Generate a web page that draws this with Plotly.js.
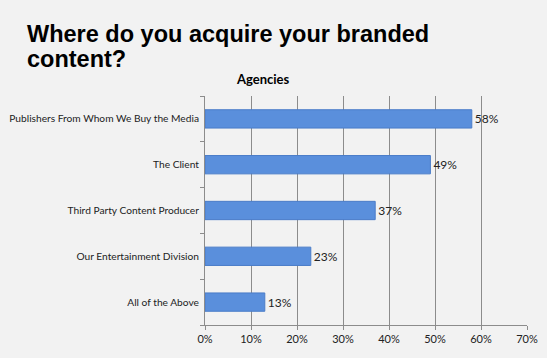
<!DOCTYPE html>
<html><head><meta charset="utf-8">
<script src="https://cdn.plot.ly/plotly-3.0.1.min.js"></script>
<style>html,body{margin:0;padding:0;background:#f2f2f2;}</style>
</head><body><div id="chart" style="width:547px;height:358px;"></div>
<script>
const categories = ["Publishers From Whom We Buy the Media", "The Client", "Third Party Content Producer", "Our Entertainment Division", "All of the Above"];
const values = [58, 49, 37, 23, 13];
const xTickVals = [0, 10, 20, 30, 40, 50, 60, 70];
const xTickText = ["0%", "10%", "20%", "30%", "40%", "50%", "60%", "70%"];

const trace = {
  type: "bar",
  orientation: "h",
  x: values.slice().reverse(),
  y: categories.slice().reverse(),
  text: values.slice().reverse().map(v => v + "%"),
  textposition: "outside",
  textfont: {family: "Lato, sans-serif", size: 12, color: "#222"},
  cliponaxis: false,
  width: 0.4,
  marker: {color: "#5a8fdc", line: {color: "#4a7cc8", width: 1}},
  hoverinfo: "none"
};

const titleFont = {family: "Liberation Sans, Arial, sans-serif", size: 23.5, color: "#000"};

const layout = {
  width: 547, height: 358,
  paper_bgcolor: "#f2f2f2", plot_bgcolor: "#f2f2f2",
  margin: {l: 205, r: 20, t: 96, b: 33},
  showlegend: false,
  font: {family: "Lato, sans-serif", color: "#222"},
  xaxis: {
    range: [0, 70], tickvals: xTickVals, ticktext: xTickText,
    showgrid: true, gridcolor: "#8c8c8c", gridwidth: 1,
    showline: true, linecolor: "#8c8c8c", ticks: "outside", ticklen: 4, tickcolor: "#8c8c8c",
    tickfont: {size: 11, family: "Lato, sans-serif", color: "#222"}, zeroline: false, fixedrange: true
  },
  yaxis: {
    type: "category",
    showline: true, linecolor: "#8c8c8c", ticks: "outside", tickson: "boundaries", ticklen: 4, tickcolor: "#8c8c8c",
    tickfont: {size: 10.2, family: "Lato, sans-serif", color: "#222"}, showgrid: false, ticklabelstandoff: 3
  },
  annotations: [
    {text: "<b>Where do you acquire your branded</b>", xref: "paper", yref: "paper", x: 0, y: 1,
     xanchor: "left", yanchor: "top", showarrow: false, align: "left",
     font: titleFont, xshift: -180, yshift: 77},
    {text: "<b>content?</b>", xref: "paper", yref: "paper", x: 0, y: 1,
     xanchor: "left", yanchor: "top", showarrow: false, align: "left",
     font: titleFont, xshift: -180, yshift: 52},
    {text: "<b>Agencies</b>", xref: "paper", yref: "paper", x: 0.5, y: 1, xanchor: "center", yanchor: "bottom",
     showarrow: false, font: {family: "Lato, sans-serif", size: 13, color: "#000"}, xshift: -103, yshift: 7}
  ]
};

Plotly.newPlot("chart", [trace], layout, {displayModeBar: false, staticPlot: true});
</script></body></html>
